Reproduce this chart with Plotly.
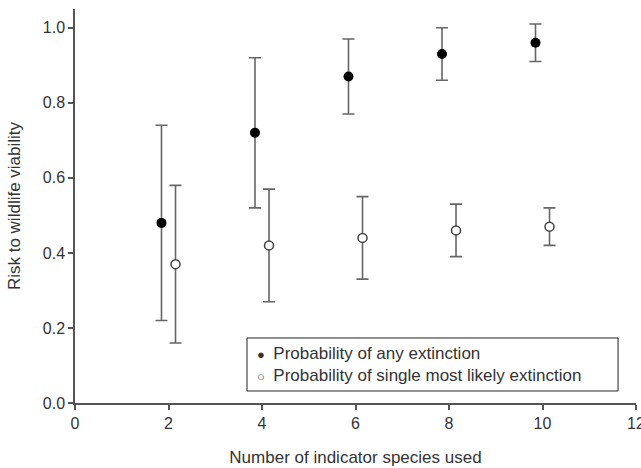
import plotly.graph_objects as go

# Data
n_species = [2, 4, 6, 8, 10]
offset = 0.15
any_ext = [0.48, 0.72, 0.87, 0.93, 0.96]
any_err = [0.26, 0.20, 0.10, 0.07, 0.05]
single_ext = [0.37, 0.42, 0.44, 0.46, 0.47]
single_err = [0.21, 0.15, 0.11, 0.07, 0.05]
x_ticks = [0, 2, 4, 6, 8, 10, 12]
y_ticks = [0.0, 0.2, 0.4, 0.6, 0.8, 1.0]
legend_labels = ["Probability of any extinction",
                 "Probability of single most likely extinction"]

axis_col = "#555555"
err_col = "#666666"
txt_col = "#333333"
font_family = "Liberation Sans, Arial, sans-serif"

fig = go.Figure()
fig.add_trace(go.Scatter(
    x=[v - offset for v in n_species], y=any_ext, mode="markers",
    marker=dict(symbol="circle", size=10, color="black", line=dict(width=0)),
    error_y=dict(type="data", array=any_err, visible=True, color=err_col, thickness=1.6, width=6),
    showlegend=False, name=legend_labels[0],
))
fig.add_trace(go.Scatter(
    x=[v + offset for v in n_species], y=single_ext, mode="markers",
    marker=dict(symbol="circle", size=9, color="white", line=dict(width=1.5, color="#404040")),
    error_y=dict(type="data", array=single_err, visible=True, color=err_col, thickness=1.6, width=6),
    showlegend=False, name=legend_labels[1],
))

# Legend box (drawn as a framed text block, like the reference)
fig.add_shape(type="rect", xref="paper", yref="paper",
              x0=0.3066, x1=0.968, y0=0.0305, y1=0.165,
              line=dict(color="#222222", width=1), fillcolor="white", layer="above")
symbols = ["\u25cf", "\u25cb"]
for lab, sym, yy in zip(legend_labels, symbols, [0.126, 0.071]):
    fig.add_annotation(xref="paper", yref="paper", x=0.3205, y=yy,
                       xanchor="left", yanchor="middle", showarrow=False,
                       text=f"<span style='font-size:13px'>{sym}</span>\u2002{lab}",
                       font=dict(size=17, color=txt_col, family=font_family))

fig.update_layout(
    width=641, height=468,
    margin=dict(l=75, r=5, t=9, b=65),
    plot_bgcolor="white", paper_bgcolor="white",
    font=dict(family=font_family, size=16, color=txt_col),
    showlegend=False,
)
fig.update_xaxes(
    range=[0, 12], tickvals=x_ticks, ticktext=[str(t) for t in x_ticks],
    showline=True, linecolor=axis_col, linewidth=1.5, mirror=False,
    ticks="outside", ticklen=5, tickcolor=axis_col, tickwidth=1.5,
    showgrid=False, zeroline=False, automargin=False, ticklabeloverflow="allow",
    tickfont=dict(size=16),
    title=dict(text="Number of indicator species used", font=dict(size=17), standoff=20),
)
fig.update_yaxes(
    range=[0, 1.05], tickvals=y_ticks, ticktext=[f"{t:.1f}" for t in y_ticks],
    showline=True, linecolor=axis_col, linewidth=1.5,
    ticks="outside", ticklen=5, tickcolor=axis_col, tickwidth=1.5,
    showgrid=False, zeroline=False, automargin=False,
    tickfont=dict(size=16),
    title=dict(text="Risk to wildlife viability", font=dict(size=17), standoff=18),
)

# remove the page's default 8px body margin so the figure fills the window
fig.write_html("out.html",
               config={"displayModeBar": False},
               post_script="document.body.style.margin='0';document.body.style.overflow='hidden';")
